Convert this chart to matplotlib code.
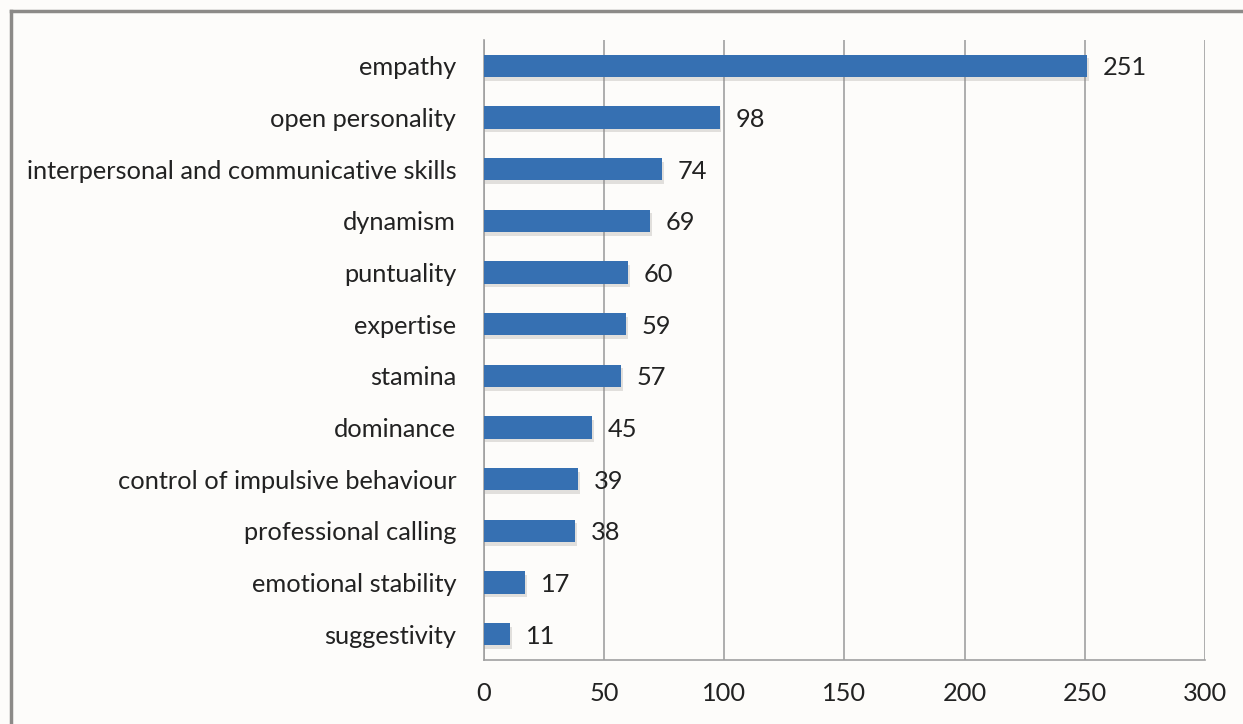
import matplotlib.pyplot as plt
from matplotlib.lines import Line2D

categories = ['empathy', 'open personality', 'interpersonal and communicative skills',
              'dynamism', 'puntuality', 'expertise', 'stamina', 'dominance',
              'control of impulsive behaviour', 'professional calling',
              'emotional stability', 'suggestivity']
values = [251, 98, 74, 69, 60, 59, 57, 45, 39, 38, 17, 11]
xticks = [0, 50, 100, 150, 200, 250, 300]

plt.rcParams['font.family'] = ['Lato', 'DejaVu Sans']

fig = plt.figure(figsize=(12.43, 7.24), dpi=100, facecolor='#fdfcfa')
ax = fig.add_axes([0.3894, 0.0884, 0.58, 0.8564])
ax.set_facecolor('#fdfcfa')

ypos = list(range(len(categories)))
# soft shadow under the bars
ax.barh([y + 0.07 for y in ypos], [v + 0.8 for v in values], height=0.43,
        color='#8f8a86', alpha=0.25, zorder=2, linewidth=0)
ax.barh(ypos, values, height=0.43, color='#3670b2', zorder=3, linewidth=0)

for y, v in zip(ypos, values):
    ax.text(v + 6.5, y, str(v), va='center_baseline', ha='left', fontsize=18.3,
            color='#222222', zorder=5)

ax.set_xlim(0, 300)
ax.set_ylim(len(categories) - 0.5, -0.5)
ax.set_xticks(xticks)
ax.set_yticks(ypos)
ax.set_yticklabels(categories)
ax.tick_params(axis='both', length=0, labelsize=18.3, colors='#222222')
ax.tick_params(axis='x', pad=16)
ax.tick_params(axis='y', pad=20)

ax.grid(axis='x', color='#a0a0a0', linewidth=1.2, zorder=0)
for s in ['top', 'right']:
    ax.spines[s].set_visible(False)
ax.spines['left'].set_color('#a0a0a0')
ax.spines['bottom'].set_color('#a0a0a0')
ax.spines['left'].set_linewidth(1.2)
ax.spines['bottom'].set_linewidth(1.2)

# outer frame (top and left edges visible)
fig.add_artist(Line2D([0.0085, 1.0], [0.985, 0.985], transform=fig.transFigure,
                      color='#8c8a88', linewidth=2.5))
fig.add_artist(Line2D([0.0085, 0.0085], [0.0, 0.985], transform=fig.transFigure,
                      color='#8c8a88', linewidth=2.5))

fig.savefig('out.png', dpi=100, facecolor=fig.get_facecolor())
